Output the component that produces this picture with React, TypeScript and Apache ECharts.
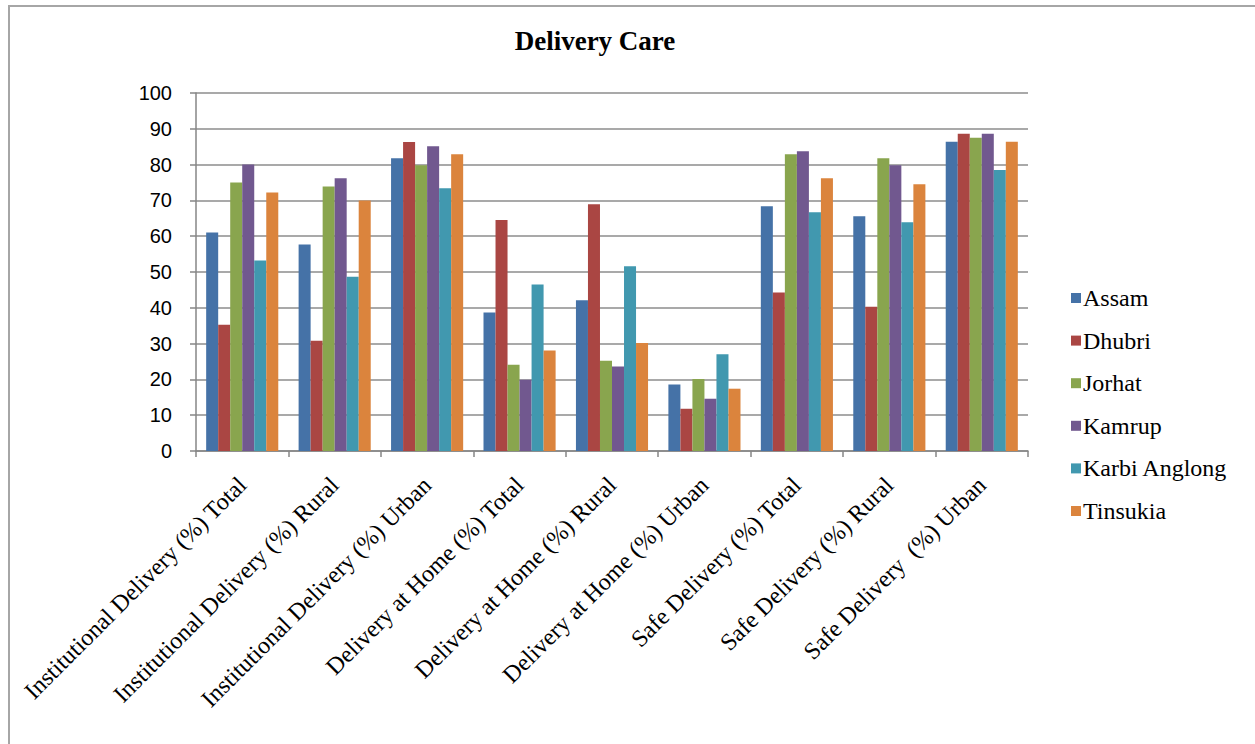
import React, { useEffect, useRef } from "react";
import * as echarts from "echarts";

const categories = [
  "Institutional Delivery (%) Total",
  "Institutional Delivery (%) Rural",
  "Institutional Delivery (%) Urban",
  "Delivery at Home (%) Total",
  "Delivery at Home (%) Rural",
  "Delivery at Home (%) Urban",
  "Safe Delivery (%) Total",
  "Safe Delivery (%) Rural",
  "Safe Delivery  (%) Urban",
];

const assam = [61.0, 57.7, 81.8, 38.7, 42.1, 18.6, 68.4, 65.6, 86.4];
const dhubri = [35.3, 30.8, 86.3, 64.5, 68.9, 11.8, 44.3, 40.3, 88.6];
const jorhat = [75.0, 73.9, 79.8, 24.1, 25.2, 20.1, 82.9, 81.8, 87.5];
const kamrup = [80.0, 76.2, 85.1, 19.9, 23.6, 14.6, 83.7, 79.8, 88.6];
const karbiAnglong = [53.2, 48.7, 73.4, 46.5, 51.6, 27.0, 66.7, 63.9, 78.5];
const tinsukia = [72.2, 70.0, 82.9, 28.1, 30.2, 17.4, 76.2, 74.5, 86.4];

const seriesNames = ["Assam", "Dhubri", "Jorhat", "Kamrup", "Karbi Anglong", "Tinsukia"];
const seriesValues = [assam, dhubri, jorhat, kamrup, karbiAnglong, tinsukia];
const seriesColors = ["#4572A7", "#AA4643", "#89A54E", "#71588F", "#4198AF", "#DB843D"];

const serif = "'Liberation Serif', 'Times New Roman', serif";

export default function App() {
  const ref = useRef<HTMLDivElement>(null);

  useEffect(() => {
    if (!ref.current) return;
    const chart = echarts.init(ref.current, undefined, { renderer: "svg" });
    chart.setOption({
      animation: false,
      backgroundColor: "#ffffff",
      title: {
        text: "Delivery Care",
        left: 590,
        textAlign: "center",
        top: 22,
        textStyle: { fontFamily: serif, fontSize: 27, fontWeight: "bold", color: "#000" },
      },
      graphic: [
        {
          type: "rect",
          shape: { x: 9, y: 6, width: 1400, height: 900 },
          style: { fill: "none", stroke: "#a6a6a6", lineWidth: 2 },
          silent: true,
        },
      ],
      legend: {
        orient: "vertical",
        left: 1066,
        top: 281,
        itemWidth: 10,
        itemHeight: 10,
        itemGap: 18.6,
        icon: "rect",
        textStyle: { fontFamily: serif, fontSize: 24, color: "#000", padding: [0, 0, 0, -3] },
        data: seriesNames,
      },
      grid: { left: 196, right: 227, top: 93, bottom: 293, containLabel: false },
      xAxis: {
        type: "category",
        data: categories,
        axisLine: { lineStyle: { color: "#868686", width: 1.5 } },
        axisTick: { show: true, alignWithLabel: false, length: 6, lineStyle: { color: "#868686", width: 1.5 } },
        axisLabel: {
          rotate: 45,
          interval: 0,
          margin: 30,
          fontFamily: serif,
          fontSize: 24,
          color: "#000",
        },
      },
      yAxis: {
        type: "value",
        min: 0,
        max: 100,
        interval: 10,
        axisLine: { show: true, lineStyle: { color: "#868686", width: 1.5 } },
        axisTick: { show: true, length: 6, lineStyle: { color: "#868686", width: 1.5 } },
        splitLine: { lineStyle: { color: "#8c8c8c", width: 1.5 } },
        axisLabel: {
          margin: 24,
          fontFamily: "'Liberation Sans', Arial, sans-serif",
          fontSize: 20,
          color: "#000",
        },
      },
      series: seriesNames.map((name, i) => ({
        name,
        type: "bar",
        data: seriesValues[i],
        barGap: "0%",
        barCategoryGap: "22%",
        itemStyle: { color: seriesColors[i] },
      })),
    });
    return () => chart.dispose();
  }, []);

  return (
    <div
      ref={ref}
      style={{ position: "fixed", left: 0, top: 0, width: 1255, height: 744 }}
    />
  );
}
